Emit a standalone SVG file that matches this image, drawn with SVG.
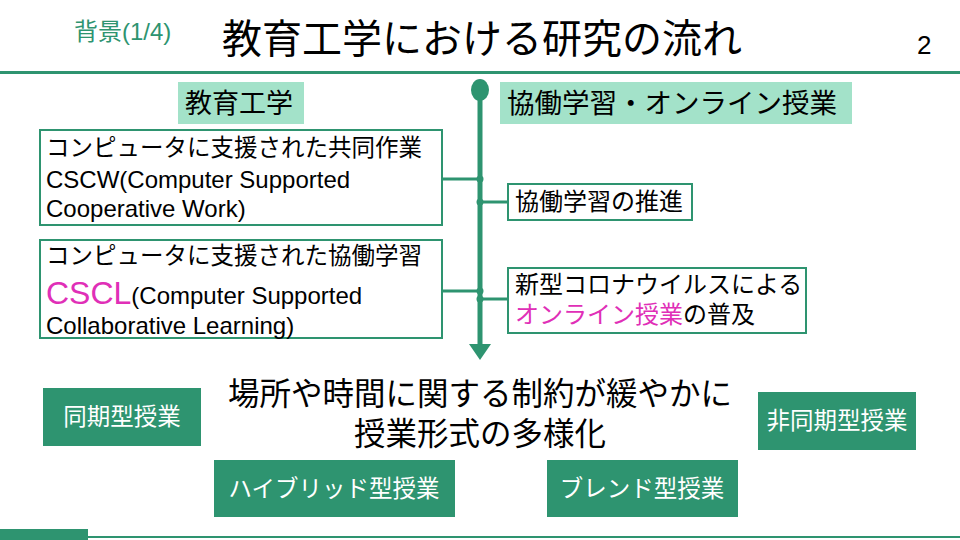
<svg xmlns="http://www.w3.org/2000/svg" width="960" height="540" viewBox="0 0 960 540">
<style>
text{font-family:"Liberation Sans","Noto Sans CJK JP",sans-serif;fill:#000}
.box{fill:#fff;stroke:#2e9470;stroke-width:2}
.hd{fill:#a3e2c9}
.g{fill:#2e9470}
.gl{stroke:#2e9470;stroke-width:3;fill:none}
.w{fill:#fff}
.p{fill:#e02fb7}
</style>
<rect width="960" height="540" fill="#fff"/>
<text x="74" y="40" font-size="24" style="fill:#2e9470">背景(1/4)</text>
<text x="222" y="53" font-size="40">教育工学における研究の流れ</text>
<text x="917" y="54" font-size="26">2</text>
<rect x="0" y="71" width="960" height="3" class="g"/>
<rect x="0" y="536" width="960" height="2" class="g"/>
<rect x="0" y="529" width="88" height="11" class="g"/>
<g id="connectors">
<line x1="480" y1="92" x2="480" y2="346" stroke="#2e9470" stroke-width="5"/>
<ellipse cx="480" cy="90" rx="9" ry="11" class="g"/>
<polygon points="469,344 491,344 480,360" class="g"/>
<line x1="442" y1="179" x2="480" y2="179" class="gl"/>
<line x1="480" y1="202" x2="508" y2="202" class="gl"/>
<line x1="442" y1="291" x2="480" y2="291" class="gl"/>
<line x1="480" y1="299" x2="508" y2="299" class="gl"/>
<circle cx="480" cy="179" r="3.5" class="g"/>
<circle cx="480" cy="202" r="3.5" class="g"/>
<circle cx="480" cy="291" r="3.5" class="g"/>
<circle cx="480" cy="299" r="3.5" class="g"/>
</g>
<g id="h1"><rect x="178" y="82" width="126" height="42" class="hd"/><text x="185" y="113" font-size="27">教育工学</text></g>
<g id="h2"><rect x="500" y="82" width="352" height="42" class="hd"/><text x="507" y="113" font-size="27.5">協働学習・オンライン授業</text></g>
<g id="b1"><rect x="40" y="130" width="402" height="95" class="box"/>
<text x="46" y="156" font-size="23.5">コンピュータに支援された共同作業</text>
<text x="46" y="188" font-size="24">CSCW(Computer Supported</text>
<text x="46" y="217" font-size="24">Cooperative Work)</text></g>
<g id="b2"><rect x="40" y="240" width="402" height="98" class="box"/>
<text x="46" y="264" font-size="23.5">コンピュータに支援された協働学習</text>
<text x="46" y="304" font-size="24"><tspan class="p" font-size="32">CSCL</tspan>(Computer Supported</text>
<text x="46" y="334" font-size="24">Collaborative Learning)</text></g>
<g id="r1"><rect x="508" y="184" width="184" height="36" class="box"/><text x="515" y="210" font-size="24">協働学習の推進</text></g>
<g id="r2"><rect x="508" y="268" width="298" height="65" class="box"/>
<text x="515" y="293" font-size="24">新型コロナウイルスによる</text>
<text x="515" y="323" font-size="24"><tspan class="p">オンライン授業</tspan>の普及</text></g>
<g id="center"><text x="480" y="405" font-size="31.5" text-anchor="middle">場所や時間に関する制約が緩やかに</text>
<text x="480" y="445" font-size="31.5" text-anchor="middle">授業形式の多様化</text></g>
<g id="s1"><rect x="43" y="388" width="158" height="58" class="g"/><text x="122" y="425" font-size="23.5" text-anchor="middle" class="w">同期型授業</text></g>
<g id="s2"><rect x="758" y="392" width="158" height="58" class="g"/><text x="837" y="429" font-size="23.5" text-anchor="middle" class="w">非同期型授業</text></g>
<g id="s3"><rect x="214" y="460" width="241" height="57" class="g"/><text x="334" y="497" font-size="23.5" text-anchor="middle" class="w">ハイブリッド型授業</text></g>
<g id="s4"><rect x="547" y="460" width="191" height="57" class="g"/><text x="642" y="497" font-size="23.5" text-anchor="middle" class="w">ブレンド型授業</text></g>
</svg>
